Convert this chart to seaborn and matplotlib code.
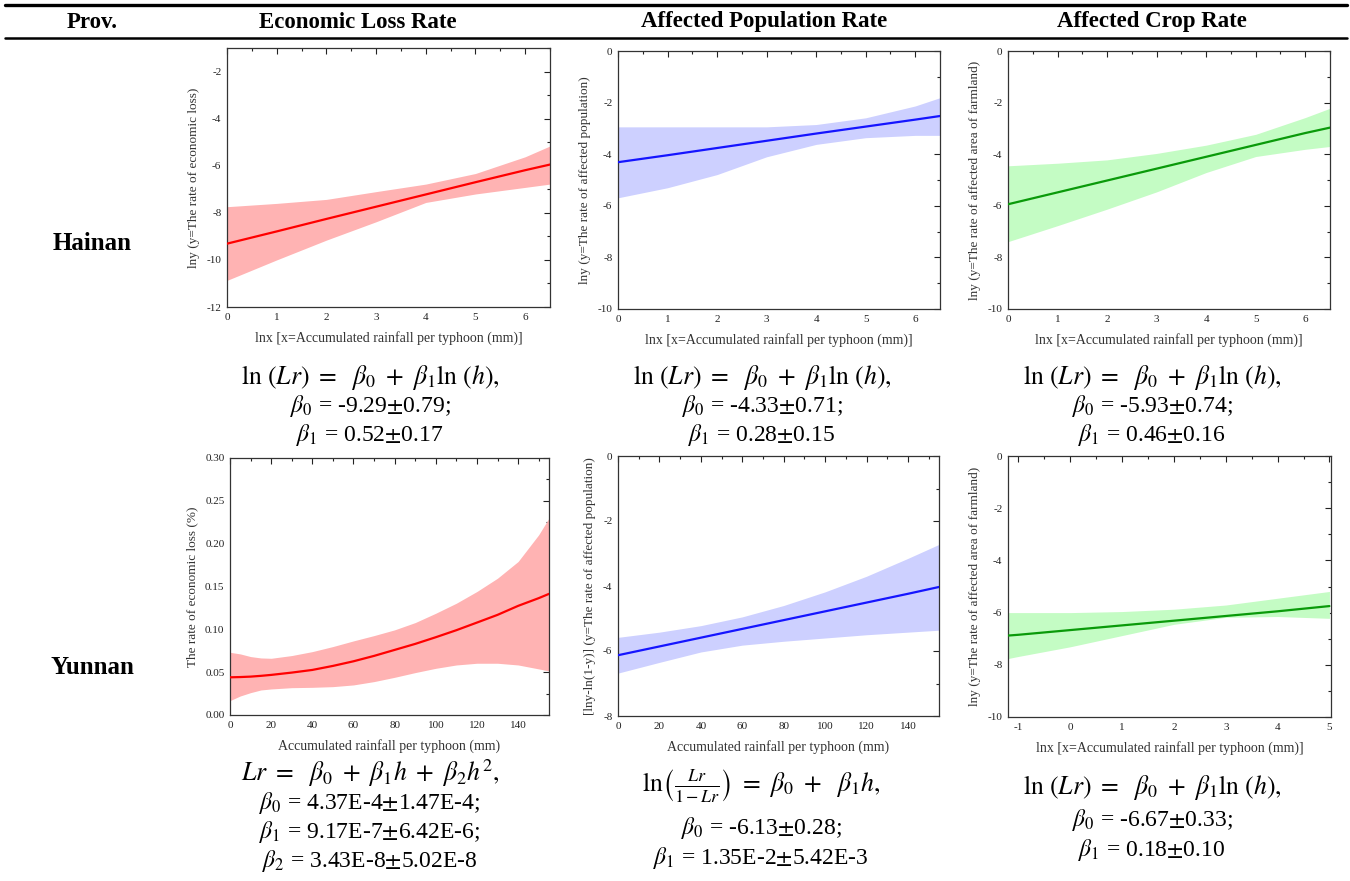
import numpy as np
import pandas as pd
import matplotlib
matplotlib.use("Agg")
import matplotlib.pyplot as plt
from matplotlib.ticker import MultipleLocator, FormatStrFormatter
from matplotlib.lines import Line2D
import seaborn as sns

# ---------------- data ----------------
columns = ["Economic Loss Rate", "Affected Population Rate", "Affected Crop Rate"]
provinces = ["Hainan", "Yunnan"]

# Hainan - economic loss
hn_econ_x = [0, 1, 2, 3, 4, 5, 6, 6.5]
hn_econ_fit = [-9.31, -8.79, -8.26, -7.74, -7.22, -6.70, -6.19, -5.95]
hn_econ_up = [-7.74, -7.60, -7.43, -7.10, -6.78, -6.33, -5.62, -5.16]
hn_econ_lo = [-10.87, -10.00, -9.16, -8.38, -7.56, -7.20, -6.92, -6.78]

# Hainan - affected population
hn_pop_x = [0, 1, 2, 3, 4, 5, 6, 6.5]
hn_pop_fit = [-4.31, -4.04, -3.76, -3.48, -3.20, -2.93, -2.66, -2.52]
hn_pop_up = [-2.94, -2.94, -2.94, -2.94, -2.85, -2.59, -2.13, -1.81]
hn_pop_lo = [-5.69, -5.30, -4.79, -4.10, -3.62, -3.36, -3.27, -3.27]

# Hainan - affected crop
hn_crop_x = [0, 1, 2, 3, 4, 5, 6, 6.5]
hn_crop_fit = [-5.94, -5.48, -5.02, -4.56, -4.10, -3.64, -3.18, -2.97]
hn_crop_up = [-4.45, -4.35, -4.22, -3.97, -3.65, -3.23, -2.58, -2.22]
hn_crop_lo = [-7.39, -6.77, -6.13, -5.46, -4.71, -4.09, -3.81, -3.70]

# Yunnan - economic loss
yn_econ_x = [0, 5, 10, 15, 20, 30, 40, 50, 60, 70, 80, 90, 100, 110, 120, 130, 140, 150, 155]
yn_econ_fit = [0.0440, 0.0443, 0.0448, 0.0457, 0.0468, 0.0495, 0.0526, 0.0573, 0.0627, 0.0690,
               0.0760, 0.0830, 0.0908, 0.0990, 0.1079, 0.1169, 0.1274, 0.1364, 0.1414]
yn_econ_up = [0.0732, 0.0713, 0.0682, 0.0666, 0.0662, 0.0694, 0.0740, 0.0799, 0.0865, 0.0927,
              0.0994, 0.1079, 0.1188, 0.1305, 0.1442, 0.1597, 0.1792, 0.2104, 0.2299]
yn_econ_lo = [0.0168, 0.0222, 0.0261, 0.0292, 0.0304, 0.0319, 0.0323, 0.0331, 0.0351, 0.0390,
              0.0440, 0.0495, 0.0545, 0.0584, 0.0604, 0.0604, 0.0584, 0.0538, 0.0514]

# Yunnan - affected population
yn_pop_x = [0, 20, 40, 60, 80, 100, 120, 140, 155]
yn_pop_fit = [-6.13, -5.86, -5.59, -5.32, -5.05, -4.78, -4.51, -4.24, -4.03]
yn_pop_up = [-5.58, -5.42, -5.22, -4.95, -4.60, -4.18, -3.70, -3.15, -2.72]
yn_pop_lo = [-6.68, -6.35, -6.03, -5.82, -5.70, -5.60, -5.50, -5.42, -5.36]

# Yunnan - affected crop
yn_crop_x = [-1.2, -1, 0, 1, 2, 3, 4, 5]
yn_crop_fit = [-6.88, -6.85, -6.67, -6.49, -6.31, -6.13, -5.95, -5.75]
yn_crop_up = [-6.00, -6.00, -6.00, -5.96, -5.87, -5.71, -5.45, -5.19]
yn_crop_lo = [-7.76, -7.68, -7.31, -6.88, -6.45, -6.18, -6.15, -6.22]

lnx_label = "lnx [x=Accumulated rainfall per typhoon (mm)]"
rain_label = "Accumulated rainfall per typhoon (mm)"

equations = [
    [r"$\mathrm{ln}\ (Lr)\ =\ \ \beta_0\ +\ \beta_1\mathrm{ln}\ (h),$",
     r"$\beta_0$ = -9.29$\pm$0.79;", r"$\beta_1$ = 0.52$\pm$0.17"],
    [r"$\mathrm{ln}\ (Lr)\ =\ \ \beta_0\ +\ \beta_1\mathrm{ln}\ (h),$",
     r"$\beta_0$ = -4.33$\pm$0.71;", r"$\beta_1$ = 0.28$\pm$0.15"],
    [r"$\mathrm{ln}\ (Lr)\ =\ \ \beta_0\ +\ \beta_1\mathrm{ln}\ (h),$",
     r"$\beta_0$ = -5.93$\pm$0.74;", r"$\beta_1$ = 0.46$\pm$0.16"],
    [r"$Lr\ =\ \ \beta_0\ +\ \beta_1 h\ +\ \beta_2 h^2,$",
     r"$\beta_0$ = 4.37E-4$\pm$1.47E-4;", r"$\beta_1$ = 9.17E-7$\pm$6.42E-6;",
     r"$\beta_2$ = 3.43E-8$\pm$5.02E-8"],
    [r"$\mathrm{ln}\left(\frac{Lr}{1-Lr}\right)\ =\ \beta_0\ +\ \ \beta_1 h,$",
     r"$\beta_0$ = -6.13$\pm$0.28;", r"$\beta_1$ = 1.35E-2$\pm$5.42E-3"],
    [r"$\mathrm{ln}\ (Lr)\ =\ \ \beta_0\ +\ \beta_1\mathrm{ln}\ (h),$",
     r"$\beta_0$ = -6.67$\pm$0.33;", r"$\beta_1$ = 0.18$\pm$0.10"],
]

# ---------------- style ----------------
sns.set_theme(style="white")
plt.rcParams["font.family"] = ["Liberation Serif", "DejaVu Serif"]
plt.rcParams["mathtext.fontset"] = "stix"
plt.rcParams["axes.unicode_minus"] = False

W, H = 1350, 881
fig = plt.figure(figsize=(W / 100, H / 100), dpi=100)
fig.patch.set_facecolor("white")


def px_axes(l, r, t, b):
    return fig.add_axes([l / W, 1 - b / H, (r - l) / W, (b - t) / H])


red_line, red_band = "#ff0000", "#ffb3b3"
blue_line, blue_band = "#1515ff", "#cdd0ff"
green_line, green_band = "#0a9a0a", "#c4fcc4"

panels = [
    dict(box=(227, 550, 48, 307), x=hn_econ_x, fit=hn_econ_fit, up=hn_econ_up, lo=hn_econ_lo,
         lc=red_line, bc=red_band, xlim=(0, 6.5), ylim=(-12, -1), xmaj=1, xmin=0.5, ymaj=2, ymin=1,
         xlabel=lnx_label, ylabel="lny (y=The rate of economic loss)", yfmt="%d"),
    dict(box=(618, 940, 51, 309), x=hn_pop_x, fit=hn_pop_fit, up=hn_pop_up, lo=hn_pop_lo,
         lc=blue_line, bc=blue_band, xlim=(0, 6.5), ylim=(-10, 0), xmaj=1, xmin=0.5, ymaj=2, ymin=1,
         xlabel=lnx_label, ylabel="lny (y=The rate of affected population)", yfmt="%d"),
    dict(box=(1008, 1330, 51, 309), x=hn_crop_x, fit=hn_crop_fit, up=hn_crop_up, lo=hn_crop_lo,
         lc=green_line, bc=green_band, xlim=(0, 6.5), ylim=(-10, 0), xmaj=1, xmin=0.5, ymaj=2, ymin=1,
         xlabel=lnx_label, ylabel="lny (y=The rate of affected area of farmland)", yfmt="%d"),
    dict(box=(230, 549, 458, 715), x=yn_econ_x, fit=yn_econ_fit, up=yn_econ_up, lo=yn_econ_lo,
         lc=red_line, bc=red_band, xlim=(0, 155), ylim=(0, 0.30), xmaj=20, xmin=10, ymaj=0.05, ymin=0.025,
         xlabel=rain_label, ylabel="The rate of economic loss (%)", yfmt="%.2f"),
    dict(box=(618, 939, 456, 716), x=yn_pop_x, fit=yn_pop_fit, up=yn_pop_up, lo=yn_pop_lo,
         lc=blue_line, bc=blue_band, xlim=(0, 155), ylim=(-8, 0), xmaj=20, xmin=10, ymaj=2, ymin=1,
         xlabel=rain_label, ylabel="[lny-ln(1-y)] (y=The rate of affected population)", yfmt="%d"),
    dict(box=(1008, 1331, 456, 717), x=yn_crop_x, fit=yn_crop_fit, up=yn_crop_up, lo=yn_crop_lo,
         lc=green_line, bc=green_band, xlim=(-1.2, 5.03), ylim=(-10, 0), xmaj=1, xmin=0.5, ymaj=2, ymin=1,
         xlabel=lnx_label, ylabel="lny (y=The rate of affected area of farmland)", yfmt="%d"),
]

for p in panels:
    ax = px_axes(*p["box"])
    df = pd.DataFrame({"x": p["x"], "fit": p["fit"], "up": p["up"], "lo": p["lo"]})
    ax.fill_between(df["x"], df["lo"], df["up"], color=p["bc"], linewidth=0, zorder=1)
    sns.lineplot(data=df, x="x", y="fit", ax=ax, color=p["lc"], linewidth=1.6, zorder=3)
    ax.set_xlim(*p["xlim"])
    ax.set_ylim(*p["ylim"])
    ax.xaxis.set_major_locator(MultipleLocator(p["xmaj"]))
    ax.xaxis.set_minor_locator(MultipleLocator(p["xmin"]))
    ax.yaxis.set_major_locator(MultipleLocator(p["ymaj"]))
    ax.yaxis.set_minor_locator(MultipleLocator(p["ymin"]))
    ax.yaxis.set_major_formatter(FormatStrFormatter(p["yfmt"]))
    ax.xaxis.set_major_formatter(FormatStrFormatter("%d"))
    ax.tick_params(which="both", direction="in", top=True, right=True, colors="#222222",
                   labelsize=8, width=0.8, pad=4)
    ax.tick_params(which="major", length=4)
    ax.tick_params(which="minor", length=2.2)
    for s in ax.spines.values():
        s.set_color("#333333")
        s.set_linewidth(0.9)
    ax.set_xlabel(p["xlabel"], fontsize=10, color="#333333", labelpad=7)
    ax.set_ylabel(p["ylabel"], fontsize=9.5, color="#333333", labelpad=5)

# ---------------- table frame / headers ----------------
fig.add_artist(Line2D([5 / W, 1347 / W], [1 - 5 / H, 1 - 5 / H], color="black", linewidth=2.4))
fig.add_artist(Line2D([5 / W, 1347 / W], [1 - 38 / H, 1 - 38 / H], color="black", linewidth=1.8))

hdr_kw = dict(fontsize=16.5, fontweight="bold", ha="center", va="center", color="black")
fig.text(92 / W, 1 - 22 / H, "Prov.", **hdr_kw)
for cx, name in zip([358, 764, 1152], columns):
    fig.text(cx / W, 1 - 22 / H, name, **hdr_kw)
prov_kw = dict(hdr_kw, fontsize=18)
for cy, name in zip([244, 668], provinces):
    fig.text(92 / W, 1 - cy / H, name, **prov_kw)

# ---------------- equations ----------------
eq_pos = [
    (370, [377, 406, 435]),
    (762, [377, 406, 435]),
    (1152, [377, 406, 435]),
    (370, [773, 803, 832, 861]),
    (761, [786, 828, 858]),
    (1152, [787, 820, 850]),
]
for (cx, ys), lines in zip(eq_pos, equations):
    for i, (y, t) in enumerate(zip(ys, lines)):
        fs = 18.5 if i == 0 else 17
        fig.text(cx / W, 1 - y / H, t, fontsize=fs, ha="center", va="center", color="black")

fig.savefig("out.png", dpi=100, facecolor="white")
